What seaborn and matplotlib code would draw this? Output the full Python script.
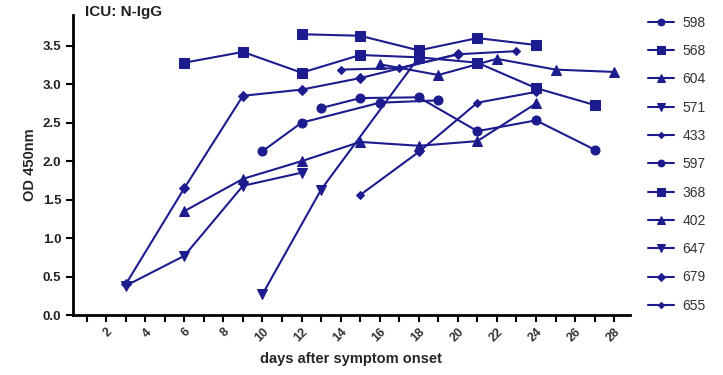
import matplotlib
matplotlib.use("Agg")
import matplotlib.pyplot as plt
import seaborn as sns
import pandas as pd

sns.set_style("ticks")
plt.rcParams['font.family'] = ['Liberation Sans', 'DejaVu Sans']

names = ["598", "568", "604", "571", "433", "597", "368", "402", "647", "679", "655"]

d598 = [10, 12, 16, 19];              v598 = [2.13, 2.50, 2.76, 2.79]
d568 = [6, 9, 12, 15, 18, 21, 24, 27]; v568 = [3.28, 3.42, 3.15, 3.38, 3.35, 3.28, 2.95, 2.73]
d604 = [16, 19, 22, 25, 28];          v604 = [3.26, 3.12, 3.33, 3.19, 3.16]
d571 = [10, 13, 18];                  v571 = [0.27, 1.63, 3.35]
d433 = [14, 17, 20, 23];              v433 = [3.19, 3.21, 3.39, 3.43]
d597 = [13, 15, 18, 21, 24, 27];      v597 = [2.69, 2.82, 2.83, 2.39, 2.53, 2.15]
d368 = [12, 15, 18, 21, 24];          v368 = [3.65, 3.63, 3.44, 3.60, 3.51]
d402 = [6, 9, 12, 15, 18, 21, 24];    v402 = [1.35, 1.77, 2.00, 2.25, 2.20, 2.26, 2.75]
d647 = [3, 6, 9, 12];                 v647 = [0.38, 0.77, 1.68, 1.85]
d679 = [3, 6, 9, 12, 15, 20];         v679 = [0.40, 1.65, 2.85, 2.93, 3.08, 3.39]
d655 = [15, 18, 21, 24];              v655 = [1.56, 2.12, 2.76, 2.90]

days = [d598, d568, d604, d571, d433, d597, d368, d402, d647, d679, d655]
vals = [v598, v568, v604, v571, v433, v597, v368, v402, v647, v679, v655]

markers = ["o", "s", "^", "v", "D", "o", "s", "^", "v", "D", "D"]
msizes = [6.5, 7.2, 7.2, 7.2, 4.2, 6.5, 7.2, 7.2, 7.2, 5.2, 4.2]

color = "#1c1c8e"

fig = plt.figure(figsize=(7.23, 3.75), dpi=100)
ax = fig.add_axes([0.101, 0.16, 0.77, 0.80])

for name, d, v, m, ms in zip(names, days, vals, markers, msizes):
    df = pd.DataFrame({"day": d, "od": v})
    sns.lineplot(data=df, x="day", y="od", marker=m, markersize=ms, color=color,
                 markeredgecolor=color, linewidth=1.5, label=name, ax=ax, errorbar=None)

ax.set_xlim(0.3, 28.8)
ax.set_ylim(0, 3.9)
xt = list(range(1, 29))
ax.set_xticks(xt)
ax.set_xticklabels([str(t) if t % 2 == 0 else "" for t in xt], rotation=45,
                   ha="right", rotation_mode="anchor", fontsize=9, fontweight="bold",
                   color="#333333")
yt = [0.0, 0.5, 1.0, 1.5, 2.0, 2.5, 3.0, 3.5]
ax.set_yticks(yt)
ax.set_yticklabels([f"{t:.1f}" for t in yt], fontsize=9.5, fontweight="bold", color="#222222")
ax.tick_params(axis="both", direction="out", length=5, width=1.5, color="black")
ax.tick_params(axis="x", pad=3)
for s in ["left", "bottom"]:
    ax.spines[s].set_linewidth(2)
    ax.spines[s].set_color("black")
sns.despine(ax=ax)

ax.set_xlabel("days after symptom onset", fontsize=10.5, fontweight="bold", labelpad=5)
ax.set_ylabel("OD 450nm", fontsize=10.5, fontweight="bold", labelpad=4)
fig.text(0.117, 0.968, "ICU: N-IgG", fontsize=11, fontweight="bold",
         va="center", ha="left", color="#222222")

h, l = ax.get_legend_handles_labels()
leg = ax.legend(h, l, loc="upper left", bbox_to_anchor=(0.896, 0.958),
                bbox_transform=fig.transFigure, frameon=False, borderpad=0,
                borderaxespad=0, fontsize=10, labelspacing=1.03, handlelength=1.9,
                handletextpad=0.6, markerscale=0.75)
for t in leg.get_texts():
    t.set_color("#333333")

fig.savefig("out.png", dpi=100)
